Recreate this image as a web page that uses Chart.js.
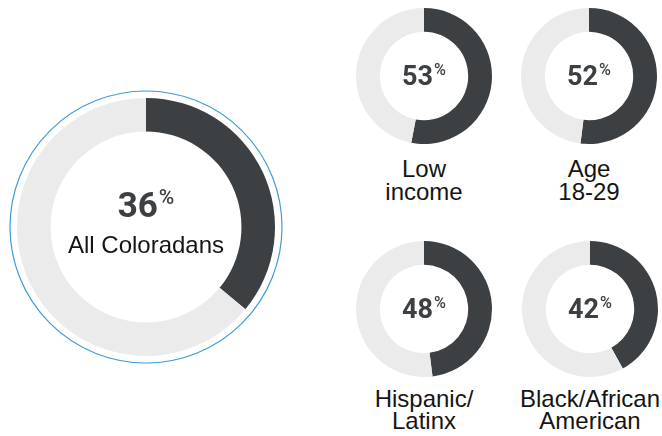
<!DOCTYPE html>
<html>
<head>
<meta charset="utf-8">
<script src="https://cdn.jsdelivr.net/npm/chart.js@4/dist/chart.umd.min.js"></script>
<style>
  html, body { margin:0; padding:0; background:#fff; }
  #wrap { position:relative; width:662px; height:436px; overflow:hidden; }
  canvas { position:absolute; }
  .pct { position:absolute; font-family:Roboto, "Liberation Sans", sans-serif; font-weight:700; color:#3d4043; text-align:center; white-space:nowrap; line-height:1; }
  .pct span.s { display:inline-block; vertical-align:top; font-weight:500; font-size:0.6em; line-height:1; margin-left:1px; position:relative; top:-1px; }
  .lbl { position:absolute; font-family:"Liberation Sans", Arial, sans-serif; color:#151515; text-align:center; white-space:nowrap; line-height:24px; height:24px; }
</style>
</head>
<body>
<div id="wrap"></div>
<script>
const categories = ['All Coloradans', 'Low income', 'Age 18-29', 'Hispanic/Latinx', 'Black/African American'];
const labelLines = [['All Coloradans'], ['Low', 'income'], ['Age', '18-29'], ['Hispanic/', 'Latinx'], ['Black/African', 'American']];
const values = [36, 53, 52, 48, 42];

const DARK = '#3d4043', LIGHT = '#ebebeb', RING = '#3f9ad8';

// layout: [centerX, centerY, radius, cutout, pctSize, pctCenterY, labelBaselines]
const layout = [
  [146, 227, 129, '74%', 35, 204.5, [253]],
  [424, 76, 68, '65%', 27, 76.5, [177, 200]],
  [589, 76, 68, '65%', 27, 76.5, [177, 200]],
  [424, 309, 68, '65%', 27, 309.5, [407.5, 429]],
  [590, 309, 68, '65%', 27, 309.5, [407.5, 429]]
];

const ringPlugin = {
  id: 'ring',
  afterDraw(chart, args, opts) {
    if (!opts.show) return;
    const arc = chart.getDatasetMeta(0).data[0];
    const ctx = chart.ctx;
    ctx.save();
    ctx.beginPath();
    ctx.arc(arc.x, arc.y, arc.outerRadius + 7, 0, Math.PI * 2);
    ctx.strokeStyle = RING;
    ctx.lineWidth = 1.2;
    ctx.stroke();
    ctx.restore();
  }
};

const wrap = document.getElementById('wrap');
categories.forEach((cat, i) => {
  const [cx, cy, r, cut, ps, pcy, baselines] = layout[i];
  const pad = i === 0 ? 11 : 1;
  const size = 2 * (r + pad);
  const cv = document.createElement('canvas');
  cv.width = size; cv.height = size;
  cv.style.left = (cx - size / 2) + 'px';
  cv.style.top = (cy - size / 2) + 'px';
  cv.style.width = size + 'px'; cv.style.height = size + 'px';
  wrap.appendChild(cv);
  new Chart(cv, {
    type: 'doughnut',
    data: {
      labels: [cat, 'Other'],
      datasets: [{ data: [values[i], 100 - values[i]], backgroundColor: [DARK, LIGHT], borderWidth: 0 }]
    },
    options: {
      responsive: false,
      animation: false,
      cutout: cut,
      layout: { padding: pad },
      plugins: { legend: { display: false }, tooltip: { enabled: false }, ring: { show: i === 0 } }
    },
    plugins: [ringPlugin]
  });

  const p = document.createElement('div');
  p.className = 'pct';
  p.style.fontSize = ps + 'px';
  p.style.width = '120px';
  p.style.left = (cx - 60) + 'px';
  p.style.top = (pcy - 0.485 * ps) + 'px';
  p.innerHTML = values[i] + '<span class="s">%</span>';
  wrap.appendChild(p);

  labelLines[i].forEach((line, k) => {
    const l = document.createElement('div');
    l.className = 'lbl';
    l.style.fontSize = '24px';
    l.style.width = '200px';
    l.style.left = (cx - 100) + 'px';
    l.style.top = (baselines[k] - 20.3) + 'px';
    l.textContent = line;
    wrap.appendChild(l);
  });
});
</script>
</body>
</html>
